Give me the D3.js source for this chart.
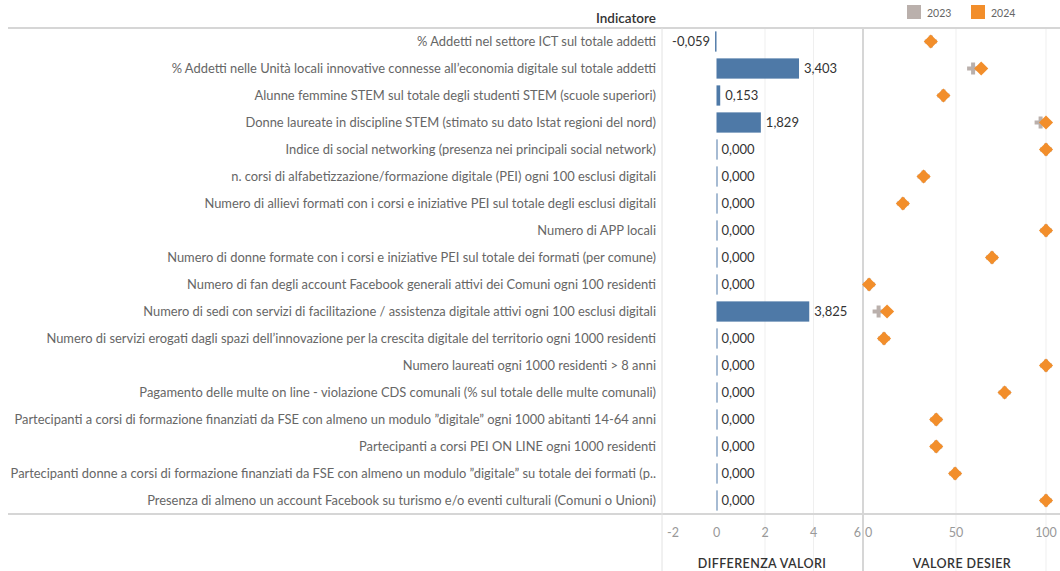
<!DOCTYPE html>
<html><head><meta charset="utf-8">
<script src="https://cdn.jsdelivr.net/npm/d3@7"></script>
<style>body{margin:0;background:#fff}svg{display:block;font-family:Lato,"Open Sans",sans-serif}</style>
</head><body><svg id="c" width="1060" height="571"></svg>
<script>
const indicators = [
"% Addetti nel settore ICT sul totale addetti",
"% Addetti nelle Unità locali innovative connesse all’economia digitale sul totale addetti",
"Alunne femmine STEM sul totale degli studenti STEM (scuole superiori)",
"Donne laureate in discipline STEM (stimato su dato Istat regioni del nord)",
"Indice di social networking (presenza nei principali social network)",
"n. corsi di alfabetizzazione/formazione  digitale (PEI) ogni 100 esclusi digitali",
"Numero di allievi formati con i corsi e iniziative PEI sul totale degli esclusi digitali",
"Numero di APP locali",
"Numero di donne formate con i corsi e iniziative PEI sul totale dei formati (per comune)",
"Numero di fan degli account Facebook generali attivi dei Comuni  ogni 100 residenti",
"Numero di sedi con servizi di facilitazione / assistenza digitale attivi ogni 100 esclusi digitali",
"Numero di servizi erogati dagli spazi dell’innovazione per la crescita digitale del territorio ogni 1000 residenti",
"Numero laureati ogni 1000 residenti > 8 anni",
"Pagamento delle multe on line - violazione CDS comunali (% sul totale delle multe comunali)",
"Partecipanti a corsi di formazione finanziati da FSE con almeno un modulo \u201ddigitale\u201d ogni 1000 abitanti 14-64 anni",
"Partecipanti a corsi PEI ON LINE ogni 1000 residenti",
"Partecipanti donne a corsi di formazione finanziati da FSE con almeno un modulo \u201ddigitale\u201d su totale dei formati (p..",
"Presenza di almeno un account Facebook su turismo e/o eventi culturali (Comuni o Unioni)"
];
const differenza = [-0.059,3.403,0.153,1.829,0,0,0,0,0,0,3.825,0,0,0,0,0,0,0];
const valore2023 = [36,59.5,43,97,100,32,20.5,100,70,1.7,7,10,100,77,39,39,49.5,100];
const valore2024 = [36,64,43,100,100,32,20.5,100,70,1.7,11.7,10,100,77,39,39,49.5,100];
const diffTicks = [-2,0,2,4,6];
const valTicks = [0,50,100];
const years = ["2023","2024"];
const colors = {"2023":"#bab0ac","2024":"#f28e2b"};

const svg = d3.select("#c");
const topY = 28, rowH = 27;
const y = d3.scaleBand().domain(d3.range(indicators.length)).range([topY, topY+rowH*indicators.length]).paddingInner(0.25).paddingOuter(0.125);
const xd = d3.scaleLinear().domain([-2,6]).range([668,862]);
const xv = d3.scaleLinear().domain([0,100]).range([866,1046]);
const bottomY = topY+rowH*indicators.length;

// gridlines
svg.append("g").selectAll("line").data(diffTicks.filter(d=>d>0&&d<6)).join("line")
 .attr("x1",d=>xd(d)).attr("x2",d=>xd(d)).attr("y1",topY).attr("y2",571).attr("stroke","#efefef");
svg.append("g").selectAll("line").data(valTicks.filter(d=>d>0)).join("line")
 .attr("x1",d=>xv(d)).attr("x2",d=>xv(d)).attr("y1",topY).attr("y2",571).attr("stroke","#efefef");

// borders
svg.append("line").attr("x1",8).attr("x2",1060).attr("y1",topY).attr("y2",topY).attr("stroke","#d6d6d6").attr("stroke-width",2);
svg.append("line").attr("x1",8).attr("x2",1060).attr("y1",bottomY).attr("y2",bottomY).attr("stroke","#d6d6d6").attr("stroke-width",2);
svg.append("line").attr("x1",662).attr("x2",662).attr("y1",topY).attr("y2",571).attr("stroke","#e2e2e2").attr("stroke-width",1);
svg.append("line").attr("x1",863).attr("x2",863).attr("y1",topY).attr("y2",571).attr("stroke","#d6d6d6").attr("stroke-width",2);

// header
svg.append("text").attr("x",656).attr("y",23).attr("text-anchor","end").attr("font-size",13.5).attr("font-weight",600).attr("fill","#333").text("Indicatore");

// row labels
svg.append("g").selectAll("text").data(indicators).join("text")
 .attr("x",656).attr("y",(d,i)=>y(i)+y.bandwidth()/2).attr("dy","0.33em")
 .attr("text-anchor","end").attr("font-size",12.9).attr("fill","#666").text(d=>d);

// bars
const fmt = v => d3.format(".3f")(v).replace(".",",").replace("\u2212","-");
svg.append("g").selectAll("rect").data(differenza).join("rect")
 .attr("x",d=>Math.min(xd(d),xd(0))).attr("y",(d,i)=>y(i))
 .attr("width",d=>Math.max(1,Math.abs(xd(d)-xd(0)))).attr("height",y.bandwidth())
 .attr("fill","#4e79a7");
svg.append("g").selectAll("text").data(differenza).join("text")
 .attr("x",d=>d<0?xd(d)-5:xd(d)+5).attr("y",(d,i)=>y(i)+y.bandwidth()/2).attr("dy","0.35em")
 .attr("text-anchor",d=>d<0?"end":"start").attr("font-size",13).attr("fill","#333").text(d=>fmt(d));

// dots
const plus = d3.symbol().type(d3.symbolCross).size(80);
const diamond = d3.symbol().type(d3.symbolSquare).size(100);
svg.append("g").selectAll("path").data(valore2023).join("path")
 .attr("d",plus).attr("transform",(d,i)=>`translate(${xv(d)},${y(i)+y.bandwidth()/2})`).attr("fill",colors["2023"]);
svg.append("g").selectAll("path").data(valore2024).join("path")
 .attr("d",diamond).attr("transform",(d,i)=>`translate(${xv(d)},${y(i)+y.bandwidth()/2}) rotate(45)`).attr("fill",colors["2024"]);

// axes
const ax = svg.append("g").attr("font-size",12.5).attr("fill","#999");
ax.selectAll(".td").data(diffTicks).join("text")
 .attr("x",d=>d===-2?xd(d)-1:d===6?xd(d)-1:xd(d)).attr("y",537)
 .attr("text-anchor",d=>d===-2?"start":d===6?"end":"middle").text(d=>d);
ax.selectAll(".tv").data(valTicks).join("text")
 .attr("x",d=>d===0?xv(d)-1:xv(d)).attr("y",537)
 .attr("text-anchor",d=>d===0?"start":"middle").text(d=>d);
svg.append("text").attr("x",762).attr("y",568).attr("text-anchor","middle").attr("font-size",12.5).attr("font-weight",600).attr("fill","#333").attr("letter-spacing",0.4).text("DIFFERENZA VALORI");
svg.append("text").attr("x",962).attr("y",568).attr("text-anchor","middle").attr("font-size",12.5).attr("font-weight",600).attr("fill","#333").attr("letter-spacing",0.4).text("VALORE DESIER");

// legend
const lg = svg.append("g").selectAll("g").data(years).join("g").attr("transform",(d,i)=>`translate(${907+i*64},5)`);
lg.append("rect").attr("width",14).attr("height",14).attr("fill",d=>colors[d]);
lg.append("text").attr("x",20).attr("y",12).attr("font-size",10.5).attr("fill","#666").text(d=>d);
</script></body></html>
